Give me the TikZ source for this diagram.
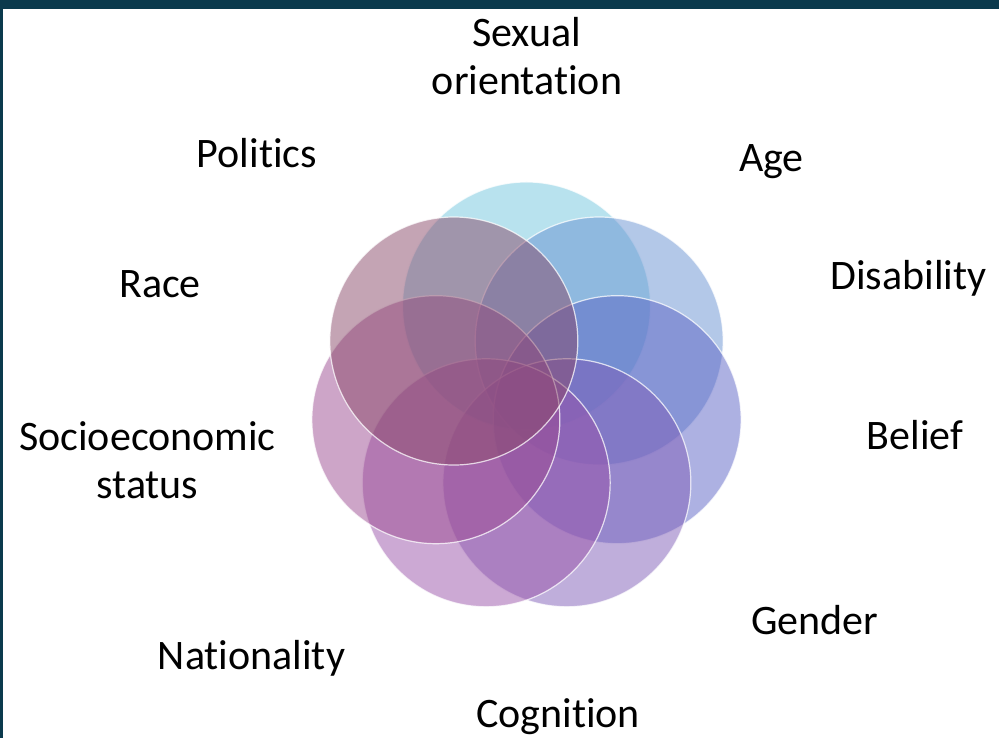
\documentclass[tikz,border=0pt]{standalone}
\usepackage{fontspec}
\setmainfont{Carlito}[Ligatures={NoCommon,NoRare}]
\usetikzlibrary{calc}

\definecolor{frameteal}{HTML}{0B3A4D}
\definecolor{petalA}{HTML}{71C5DD}
\definecolor{petalB}{HTML}{6791D1}
\definecolor{petalC}{HTML}{5B63C5}
\definecolor{petalD}{HTML}{7F5DB7}
\definecolor{petalE}{HTML}{9953A9}
\definecolor{petalF}{HTML}{9B4B91}
\definecolor{petalG}{HTML}{894969}

\begin{document}
\begin{tikzpicture}[
  x=1pt, y=1pt,
  petal/.style={circle, minimum size=248pt, inner sep=0pt,
                fill opacity=0.5, draw=white, draw opacity=0.75, line width=1.2pt},
  tag/.style={anchor=base, font=\fontsize{42}{48}\selectfont, align=center}
]
  \useasboundingbox (0,0) rectangle (999,738);

  % frame along the top and left edge
  \fill[frameteal] (0,729) rectangle (999,738);
  \fill[frameteal] (0,0) rectangle (3,738);

  % seven overlapping circles around the hub
  \coordinate (hub) at (526.5,339);
  \node[petal, fill=petalA] (p1) at ($(hub)+(90:93)$)      {};
  \node[petal, fill=petalB] (p2) at ($(hub)+(38.57:93)$)   {};
  \node[petal, fill=petalC] (p3) at ($(hub)+(-12.86:93)$)  {};
  \node[petal, fill=petalD] (p4) at ($(hub)+(-64.29:93)$)  {};
  \node[petal, fill=petalE] (p5) at ($(hub)+(-115.71:93)$) {};
  \node[petal, fill=petalF] (p6) at ($(hub)+(-167.14:93)$) {};
  \node[petal, fill=petalG] (p7) at ($(hub)+(141.43:93)$)  {};

  % labels (two-line ones sit on their last baseline)
  \node[tag] (sexual) at (527,643)    {Sexual\\orientation};
  \node[tag] (politics) at (257,570)  {Politics};
  \node[tag] (age) at (771.5,566)     {Age};
  \node[tag] (disab) at (908.5,448)   {Disability};
  \node[tag] (race) at (160,440)      {Race};
  \node[tag] (socio) at (147.5,239)   {Socioeconomic\\status};
  \node[tag] (belief) at (915,288)    {Belief};
  \node[tag] (gender) at (815,103)    {Gender};
  \node[tag] (nation) at (251.5,68)   {Nationality};
  \node[tag] (cogn) at (558,10)       {Cognition};
\end{tikzpicture}
\end{document}
